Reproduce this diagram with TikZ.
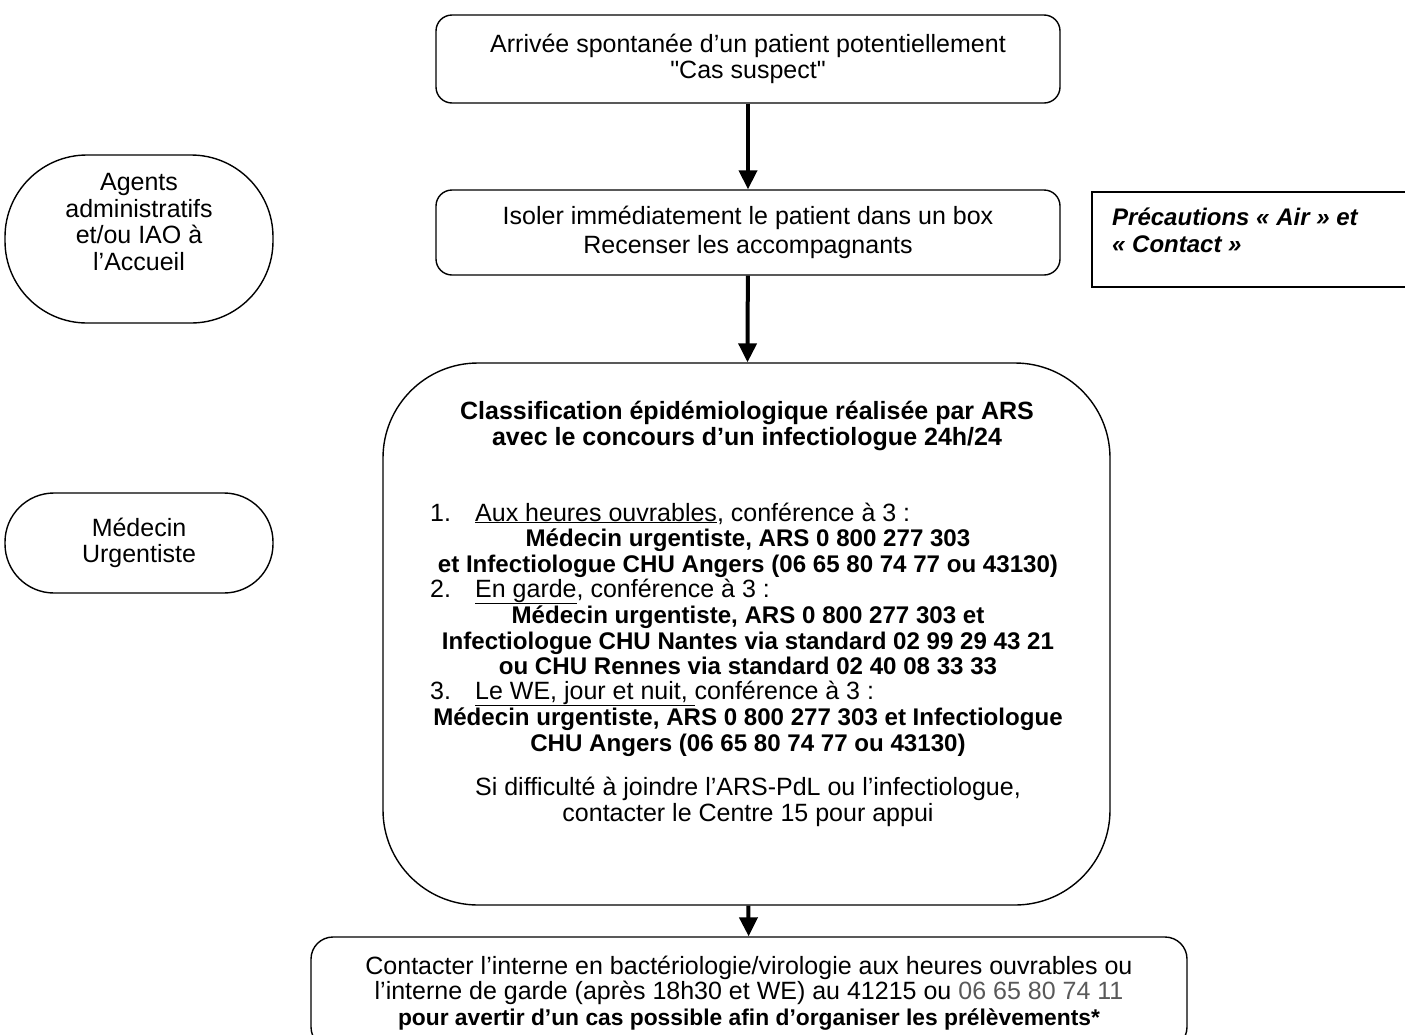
\documentclass[tikz,border=0pt]{standalone}
\usepackage{fontspec}
\setmainfont{Liberation Sans}
\usepackage{tikz}
\usetikzlibrary{arrows.meta,positioning}
\definecolor{phonegrey}{HTML}{595959}
\newcommand\txtsize{\fontsize{25}{25.5}\selectfont}
\newcommand\boldsize{\fontsize{24.1}{25.5}\selectfont\bfseries}
\newcommand\itemno[1]{\makebox[45pt][l]{#1}}

\begin{document}
\begin{tikzpicture}[x=1pt, y=-1pt,
  box/.style={draw, line width=1.4pt, rounded corners=16pt, align=center, font=\txtsize},
  actor/.style={draw, line width=1.4pt, minimum width=268pt},
  txt/.style={align=center, font=\txtsize, inner sep=0pt},
  bline/.style={font=\boldsize, inner sep=0pt, anchor=base},
  item/.style={font=\txtsize, inner sep=0pt, anchor=base west},
  flow/.style={line width=4pt, -{Triangle[length=19pt, width=18pt]}}]
\clip (0,0) rectangle (1405,1034);

% actors on the left
\node[actor, rounded corners=82pt, minimum height=168pt] (agents) at (139,239) {};
\node[txt, font=\fontsize{25}{26.5}\selectfont] (agentstxt) at (139,222) {Agents\\administratifs\\et/ou IAO à\\l’Accueil};
\node[actor, rounded corners=49pt, minimum height=100pt, align=center, font=\txtsize] (medecin) at (139,543) {Médecin\\Urgentiste};

% main flow
\node[box, minimum width=624pt, minimum height=88pt] (arrivee) at (748,59)
  {Arrivée spontanée d’un patient potentiellement\\\textquotedbl Cas suspect\textquotedbl};
\node[box, minimum width=624pt, minimum height=85pt] (isoler) at (748,232.5)
  {Isoler immédiatement le patient dans un box\\[4pt]Recenser les accompagnants};
\node[draw, line width=1.4pt, minimum width=328pt, minimum height=95pt] (precau) at (1256,239.5) {};
\node[txt, anchor=north west, align=left, font=\fontsize{24}{26.5}\selectfont\bfseries\itshape] (precautxt) at (1112,208)
  {Précautions « Air » et\\« Contact »};

\node[draw, line width=1.4pt, rounded corners=95pt, minimum width=727pt, minimum height=542pt] (classif) at (746.5,634) {};
\node[txt, font=\txtsize\bfseries, align=center] (titre) at (747,426)
  {Classification épidémiologique réalisée par ARS\\[1pt]avec le concours d’un infectiologue 24h/24};

% three cases
\node[item] (n1) at (430,521) {\itemno{1.}\underline{Aux heures ouvrables}, conférence à 3 :};
\node[item] (n2) at (430,597) {\itemno{2.}\underline{En garde}, conférence à 3 :};
\node[item] (n3) at (430,699) {\itemno{3.}\underline{Le WE, jour et nuit, }conférence à 3 :};
\foreach \y/\t in {546/{Médecin urgentiste, ARS 0 800 277 303},
                   572/{et Infectiologue CHU Angers (06 65 80 74 77 ou 43130)},
                   623/{Médecin urgentiste, ARS 0 800 277 303 et},
                   649/{Infectiologue CHU Nantes via standard 02 99 29 43 21},
                   674/{ou CHU Rennes via standard 02 40 08 33 33},
                   725/{Médecin urgentiste, ARS 0 800 277 303 et Infectiologue},
                   751/{CHU Angers (06 65 80 74 77 ou 43130)}}
  \node[bline] (l-\y) at (748,\y) {\t};
\node[txt] (appui) at (748,802) {Si difficulté à joindre l’ARS-PdL ou l’infectiologue,\\contacter le Centre 15 pour appui};

\node[box, rounded corners=22pt, minimum width=876pt, minimum height=112pt] (interne) at (749,993)
  {Contacter l’interne en bactériologie/virologie aux heures ouvrables ou\\
   l’interne de garde (après 18h30 et WE) au 41215 ou \textcolor{phonegrey}{06 65 80 74 11}\\
   {\fontsize{22.8}{25.5}\selectfont\bfseries pour avertir d’un cas possible afin d’organiser les prélèvements*}};

\path[flow] (arrivee) edge (isoler)
            (isoler) edge (classif)
            (classif) edge (interne);
\end{tikzpicture}
\end{document}
